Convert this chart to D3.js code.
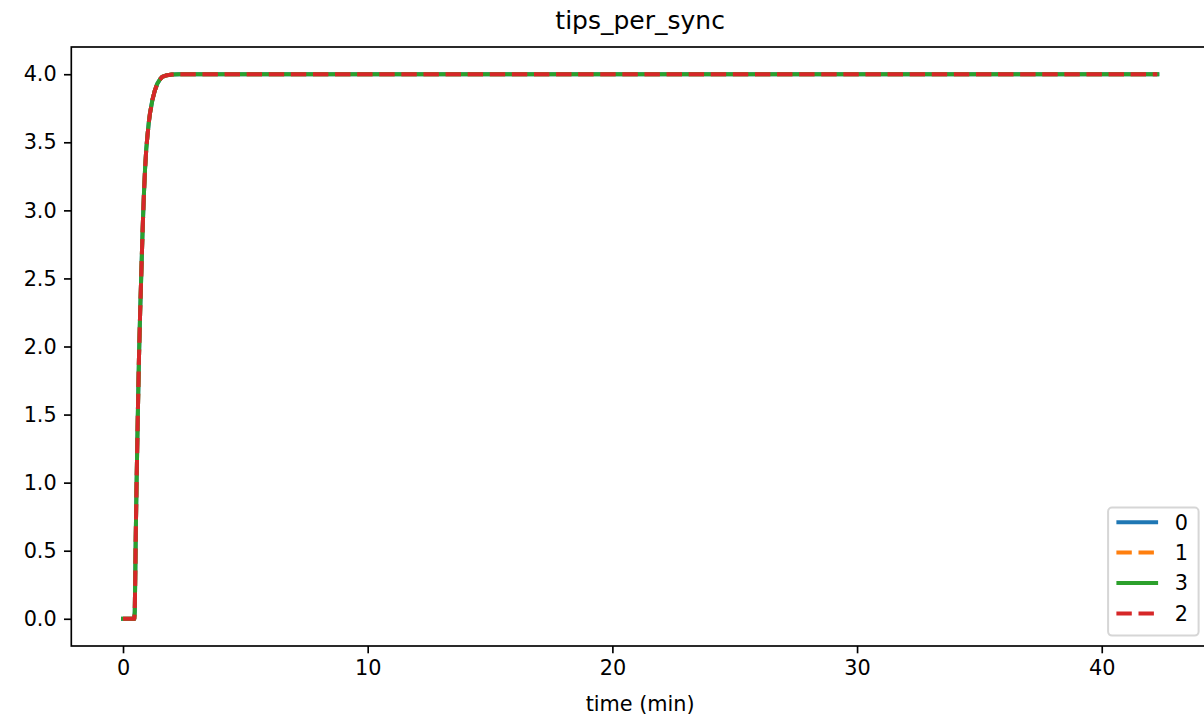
<!DOCTYPE html>
<html>
<head>
<meta charset="utf-8">
<script src="https://cdn.jsdelivr.net/npm/d3@7"></script>
<style>
  html, body { margin: 0; padding: 0; background: #fff; }
  svg { display: block; font-family: "DejaVu Sans", sans-serif; }
</style>
</head>
<body>
<svg id="chart" width="1204" height="719"></svg>
<script>
// ---- data ----
const chartTitle = "tips_per_sync";
const xLabel = "time (min)";
const timeMin = [0, 0.1, 0.2, 0.3, 0.4, 0.46, 0.48, 0.5, 0.52, 0.55, 0.6, 0.65, 0.7, 0.75, 0.8, 0.85, 0.9, 0.95, 1.0, 1.05, 1.1, 1.2, 1.3, 1.4, 1.5, 1.6, 1.8, 2.0, 2.3, 3, 5, 10, 20, 30, 42.27];
const series0 = [0, 0, 0, 0, 0, 0, 0.05, 0.3, 0.6, 0.95, 1.45, 1.9, 2.25, 2.55, 2.85, 3.1, 3.3, 3.45, 3.55, 3.64, 3.71, 3.81, 3.88, 3.93, 3.96, 3.98, 3.993, 3.998, 4, 4, 4, 4, 4, 4, 4];
const series1 = [0, 0, 0, 0, 0, 0, 0.05, 0.3, 0.6, 0.95, 1.45, 1.9, 2.25, 2.55, 2.85, 3.1, 3.3, 3.45, 3.55, 3.64, 3.71, 3.81, 3.88, 3.93, 3.96, 3.98, 3.993, 3.998, 4, 4, 4, 4, 4, 4, 4];
const series3 = [0, 0, 0, 0, 0, 0, 0.05, 0.3, 0.6, 0.95, 1.45, 1.9, 2.25, 2.55, 2.85, 3.1, 3.3, 3.45, 3.55, 3.64, 3.71, 3.81, 3.88, 3.93, 3.96, 3.98, 3.993, 3.998, 4, 4, 4, 4, 4, 4, 4];
const series2 = [0, 0, 0, 0, 0, 0, 0.05, 0.3, 0.6, 0.95, 1.45, 1.9, 2.25, 2.55, 2.85, 3.1, 3.3, 3.45, 3.55, 3.64, 3.71, 3.81, 3.88, 3.93, 3.96, 3.98, 3.993, 3.998, 4, 4, 4, 4, 4, 4, 4];
const seriesNames = ["0", "1", "3", "2"];
const xTicks = [0, 10, 20, 30, 40];
const yTicks = [0, 0.5, 1, 1.5, 2, 2.5, 3, 3.5, 4];

// ---- styles ----
const seriesStyles = [
  { color: "#1f77b4", dash: null },
  { color: "#ff7f0e", dash: "15.4,6.7" },
  { color: "#2ca02c", dash: null },
  { color: "#d62728", dash: "15.4,6.7" }
];
const allSeries = [series0, series1, series3, series2];

(function () {
const svg = d3.select("#chart");
const mL = 71.3, mR = 1209, mT = 47, mB = 646;
const fs = 20.8;

const xMax = d3.max(timeMin), xMin = d3.min(timeMin);
const xPad = (xMax - xMin) * 0.05;
const x = d3.scaleLinear().domain([xMin - xPad, xMax + xPad]).range([mL, mR]);
const y = d3.scaleLinear().domain([-0.2, 4.2]).range([mB, mT]);

const defs = svg.append("defs");
defs.append("clipPath").attr("id", "clip").append("rect")
  .attr("x", mL).attr("y", mT).attr("width", mR - mL).attr("height", mB - mT);

// lines
const lineGen = d3.line().x((d, i) => x(timeMin[i])).y(d => y(d));
const lg = svg.append("g").attr("clip-path", "url(#clip)");
allSeries.forEach((s, k) => {
  const st = seriesStyles[k];
  lg.append("path").datum(s)
    .attr("d", lineGen)
    .attr("fill", "none")
    .attr("stroke", st.color)
    .attr("stroke-width", 4)
    .attr("stroke-linejoin", "round")
    .attr("stroke-linecap", st.dash ? "butt" : "square")
    .attr("stroke-dasharray", st.dash);
});

// axes
const xAxis = d3.axisBottom(x).tickValues(xTicks).tickFormat(d3.format("d")).tickSizeInner(7.3).tickSizeOuter(0).tickPadding(7.3);
const yAxis = d3.axisLeft(y).tickValues(yTicks).tickFormat(d3.format(".1f")).tickSizeInner(7.3).tickSizeOuter(0).tickPadding(7.3);

const gx = svg.append("g").attr("transform", `translate(0,${mB})`).call(xAxis);
const gy = svg.append("g").attr("transform", `translate(${mL},0)`).call(yAxis);
[gx, gy].forEach(g => {
  g.select(".domain").remove();
  g.selectAll(".tick line").attr("stroke", "#000").attr("stroke-width", 1.67);
  g.selectAll(".tick text").attr("fill", "#000").attr("font-size", fs).attr("font-family", "DejaVu Sans");
});

// spines
svg.append("rect").attr("x", mL).attr("y", mT).attr("width", mR - mL).attr("height", mB - mT)
  .attr("fill", "none").attr("stroke", "#000").attr("stroke-width", 1.67);

// title & label
svg.append("text").attr("x", (mL + mR) / 2).attr("y", 29).attr("text-anchor", "middle")
  .attr("font-size", 25).attr("fill", "#000").text(chartTitle);
svg.append("text").attr("x", (mL + mR) / 2).attr("y", 711).attr("text-anchor", "middle")
  .attr("font-size", fs).attr("fill", "#000").text(xLabel);

// legend
const legW = 90.5, legH = 128;
const legX = mR - 10.4 - legW, legY = mB - 10.4 - legH;
const leg = svg.append("g");
leg.append("rect").attr("x", legX).attr("y", legY).attr("width", legW).attr("height", legH)
  .attr("rx", 4).attr("ry", 4)
  .attr("fill", "#fff").attr("fill-opacity", 0.8)
  .attr("stroke", "#d6d6d6").attr("stroke-width", 2);
seriesNames.forEach((name, k) => {
  const cy = legY + 14.6 + k * 30.4;
  const st = seriesStyles[k];
  leg.append("line").attr("x1", legX + 8.3).attr("x2", legX + 8.3 + 41.7)
    .attr("y1", cy).attr("y2", cy)
    .attr("stroke", st.color).attr("stroke-width", 4)
    .attr("stroke-dasharray", st.dash);
  leg.append("text").attr("x", legX + 8.3 + 41.7 + 16.7).attr("y", cy).attr("dy", "0.36em")
    .attr("font-size", fs).attr("fill", "#000").text(name);
});
})();
</script>
</body>
</html>
